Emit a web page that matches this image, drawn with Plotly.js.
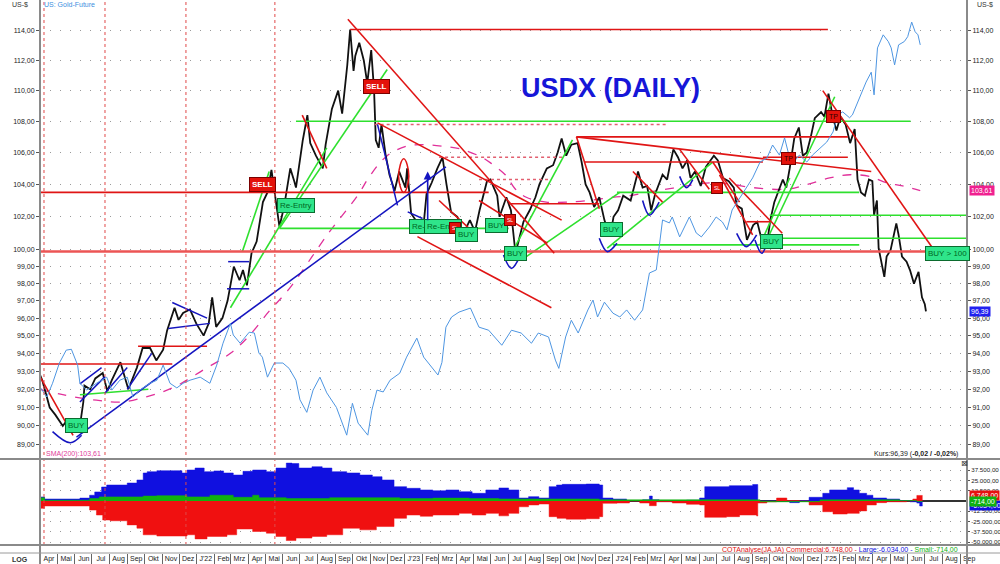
<!DOCTYPE html>
<html><head><meta charset="utf-8">
<script src="https://cdn.plot.ly/plotly-3.0.1.min.js"></script>
<style>html,body{margin:0;padding:0;background:#fff;}#chart{width:1000px;height:564px;}</style>
</head><body><div id="chart"></div>
<script>
// ---------------- DATA ----------------
const usdxDaily = [
['2021-04-01',92.8],['2021-04-05',92.5],['2021-04-18',91.0],['2021-04-28',90.6],['2021-05-11',90.0],['2021-05-18',90.3],['2021-05-28',89.7],
['2021-06-04',90.2],['2021-06-10',90.0],['2021-06-16',91.3],['2021-06-18',92.2],['2021-06-28',92.0],['2021-07-07',92.6],['2021-07-20',92.9],
['2021-07-28',91.9],['2021-08-05',92.5],['2021-08-20',93.5],['2021-08-27',92.7],['2021-09-03',92.0],['2021-09-18',93.2],['2021-09-28',94.3],
['2021-10-11',94.3],['2021-10-22',93.6],['2021-11-03',94.2],['2021-11-10',95.3],['2021-11-23',96.6],['2021-11-30',95.9],['2021-12-08',96.3],
['2021-12-20',96.5],['2021-12-31',95.7],
['2022-01-13',95.0],['2022-01-22',95.7],['2022-01-28',97.2],['2022-02-04',95.5],['2022-02-15',96.0],['2022-02-24',97.0],['2022-03-07',99.0],
['2022-03-12',98.6],['2022-03-17',98.2],['2022-03-23',98.8],['2022-03-30',97.9],['2022-04-07',99.8],['2022-04-16',100.5],['2022-04-27',102.9],
['2022-05-05',103.5],['2022-05-12',104.9],['2022-05-19',103.0],['2022-05-26',101.4],['2022-06-03',102.6],['2022-06-14',105.0],['2022-06-21',104.2],
['2022-06-24',103.8],['2022-07-06',106.8],['2022-07-14',108.4],['2022-07-19',106.6],['2022-07-29',105.8],['2022-08-10',105.0],['2022-08-15',106.5],
['2022-08-26',108.8],['2022-09-06',110.0],['2022-09-13',108.5],['2022-09-22',111.7],['2022-09-27',114.1],['2022-10-03',111.3],['2022-10-06',112.3],
['2022-10-13',113.2],['2022-10-21',112.0],['2022-10-27',110.5],['2022-11-03',112.7],['2022-11-08',110.0],['2022-11-11',106.8],['2022-11-16',106.3],
['2022-11-21',107.8],['2022-11-28',105.9],['2022-12-05',104.6],['2022-12-14',103.6],['2022-12-22',104.8],
['2023-01-02',103.8],['2023-01-05',105.0],['2023-01-12',102.2],['2023-01-24',101.6],['2023-02-02',101.2],['2023-02-08',103.4],['2023-02-17',104.1],
['2023-02-27',105.0],['2023-03-08',105.7],['2023-03-15',104.0],['2023-03-23',102.3],['2023-04-03',102.0],['2023-04-14',101.0],['2023-04-25',101.8],
['2023-05-04',101.1],['2023-05-12',102.4],['2023-05-25',104.2],['2023-05-31',104.3],['2023-06-12',103.3],['2023-06-16',102.0],['2023-06-28',103.2],
['2023-07-06',102.4],['2023-07-14',99.8],['2023-07-20',100.6],['2023-07-28',101.7],['2023-08-08',102.4],['2023-08-18',103.2],['2023-08-25',104.0],
['2023-09-07',105.0],['2023-09-18',105.2],['2023-09-26',106.0],['2023-10-03',106.9],['2023-10-11',105.8],['2023-10-20',106.5],['2023-10-31',106.6],
['2023-11-07',105.4],['2023-11-14',104.0],['2023-11-21',103.5],['2023-11-29',102.6],['2023-12-08',103.2],['2023-12-17',101.8],['2023-12-27',100.8],
['2024-01-02',102.0],['2024-01-10',102.4],['2024-01-19',103.3],['2024-02-01',103.0],['2024-02-14',104.8],['2024-02-22',103.8],['2024-03-01',103.9],
['2024-03-08',102.4],['2024-03-15',103.4],['2024-03-28',104.6],['2024-04-05',104.3],['2024-04-10',105.2],['2024-04-16',106.2],['2024-04-24',105.7],
['2024-05-02',105.0],['2024-05-10',105.5],['2024-05-16',104.4],['2024-05-24',104.8],['2024-06-03',103.9],['2024-06-12',105.1],['2024-06-26',105.8],
['2024-07-03',105.5],['2024-07-12',104.4],['2024-07-22',104.2],['2024-07-31',103.8],['2024-08-05',102.7],['2024-08-14',102.5],['2024-08-23',100.6],
['2024-09-03',101.5],['2024-09-10',101.7],['2024-09-18',100.6],['2024-09-27',100.3],['2024-10-03',101.8],['2024-10-10',102.9],['2024-10-18',103.6],
['2024-10-25',104.3],['2024-10-31',103.8],['2024-11-06',105.0],['2024-11-14',106.9],['2024-11-22',107.6],['2024-11-29',105.8],['2024-12-06',106.0],
['2024-12-13',107.0],['2024-12-20',108.2],['2024-12-31',108.6],
['2025-01-06',108.3],['2025-01-13',109.8],['2025-01-20',108.4],['2025-01-27',107.4],['2025-02-03',108.3],['2025-02-12',107.8],['2025-02-20',106.6],
['2025-02-28',107.5],['2025-03-05',104.3],['2025-03-11',103.5],['2025-03-18',103.3],['2025-03-25',104.3],['2025-03-31',104.2],['2025-04-03',102.1],
['2025-04-08',103.0],['2025-04-11',100.1],['2025-04-21',98.4],['2025-04-25',99.6],['2025-05-02',100.0],['2025-05-12',101.6],['2025-05-16',100.9],
['2025-05-22',99.6],['2025-05-30',99.3],['2025-06-05',98.8],['2025-06-12',98.0],['2025-06-20',98.7],['2025-06-26',97.2],['2025-07-01',96.8],
['2025-07-03',96.39]
];

const goldFuture = [
['2021-04-01',1779],['2021-04-13',1747],['2021-04-23',1791],['2021-05-05',1858],['2021-05-17',1902],['2021-05-26',1905],['2021-06-06',1851],
['2021-06-10',1791],['2021-06-22',1769],['2021-07-09',1791],['2021-07-27',1811],['2021-08-05',1769],['2021-08-19',1801],['2021-09-01',1811],
['2021-09-11',1747],['2021-09-23',1769],['2021-10-11',1791],['2021-10-23',1801],['2021-11-03',1851],['2021-11-15',1791],['2021-11-27',1776],
['2021-12-08',1791],['2021-12-20',1801],['2022-01-07',1811],['2022-01-24',1791],['2022-02-05',1851],['2022-02-16',1926],['2022-03-01',1997],
['2022-03-06',1955],['2022-03-18',1926],['2022-04-03',1965],['2022-04-12',1962],['2022-04-20',1892],['2022-04-26',1878],['2022-05-05',1811],
['2022-05-17',1858],['2022-06-01',1858],['2022-06-12',1840],['2022-06-24',1801],['2022-07-01',1738],['2022-07-13',1699],['2022-07-24',1769],
['2022-08-05',1811],['2022-08-17',1760],['2022-09-03',1714],['2022-09-21',1630],['2022-10-01',1727],['2022-10-11',1666],['2022-10-28',1630],
['2022-11-04',1705],['2022-11-13',1769],['2022-11-24',1763],['2022-12-06',1801],['2022-12-23',1824],['2023-01-04',1878],['2023-01-22',1944],
['2023-02-03',1878],['2023-02-19',1840],['2023-02-28',1818],['2023-03-07',1860],['2023-03-14',1983],['2023-03-24',2020],['2023-04-06',2038],
['2023-04-26',2053],['2023-05-11',1983],['2023-05-28',1972],['2023-06-20',1919],['2023-07-07',1972],['2023-07-24',1962],['2023-08-11',1926],
['2023-08-23',1962],['2023-09-10',1948],['2023-09-22',1868],['2023-09-28',1840],['2023-10-10',1948],['2023-10-20',2008],['2023-11-01',1962],
['2023-11-18',2046],['2023-11-27',2083],['2023-12-05',2020],['2023-12-17',2075],['2024-01-01',2034],['2024-01-13',2020],['2024-01-25',2046],
['2024-02-08',2008],['2024-02-22',2046],['2024-02-29',2132],['2024-03-05',2188],['2024-03-17',2200],['2024-03-22',2294],['2024-03-28',2409],
['2024-04-09',2396],['2024-04-14',2422],['2024-04-27',2336],['2024-05-14',2422],['2024-05-26',2353],['2024-06-04',2336],['2024-06-18',2378],
['2024-06-30',2422],['2024-07-11',2400],['2024-07-19',2366],['2024-07-28',2453],['2024-08-10',2506],['2024-08-22',2553],['2024-09-02',2600],
['2024-09-15',2676],['2024-09-27',2695],['2024-10-07',2760],['2024-10-19',2710],['2024-10-28',2796],['2024-11-09',2662],['2024-11-23',2710],
['2024-12-06',2676],['2024-12-16',2710],['2024-12-29',2745],['2025-01-10',2775],['2025-01-21',2826],['2025-01-29',2915],['2025-02-07',2931],
['2025-02-19',2900],['2025-02-24',2915],['2025-03-08',3006],['2025-03-20',3094],['2025-03-29',3150],['2025-04-03',3023],['2025-04-09',3292],
['2025-04-19',3371],['2025-04-28',3330],['2025-05-03',3292],['2025-05-09',3192],['2025-05-16',3310],['2025-05-26',3330],['2025-06-01',3360],
['2025-06-08',3450],['2025-06-14',3390],['2025-06-19',3371],['2025-06-23',3310]
];

const sma200 = [
['2021-04-01',92.0],['2021-05-11',91.7],['2021-07-09',91.4],['2021-08-23',91.3],['2021-10-06',91.6],['2021-11-21',92.1],['2022-01-14',93.1],
['2022-03-01',94.0],['2022-04-03',95.0],['2022-05-08',96.4],['2022-06-12',97.7],['2022-08-22',101.1],['2022-10-10',103.3],['2022-11-02',104.6],
['2022-12-01',105.8],['2023-01-04',106.4],['2023-02-03',106.5],['2023-03-09',106.4],['2023-04-11',106.2],['2023-05-16',105.7],['2023-06-02',105.3],
['2023-06-26',104.6],['2023-07-14',103.7],['2023-08-02',103.2],['2023-09-06',102.9],['2023-10-11',102.9],['2023-11-19',103.0],['2024-01-01',103.2],
['2024-01-30',103.3],['2024-02-29',103.5],['2024-04-04',103.7],['2024-05-09',103.9],['2024-06-24',104.1],['2024-07-28',104.0],['2024-09-02',103.8],
['2024-11-01',103.7],['2024-12-07',104.0],['2025-01-15',104.4],['2025-02-20',104.6],['2025-03-26',104.5],['2025-04-25',104.1],['2025-05-23',103.9],
['2025-06-23',103.61]
];

const cotLarge = [
['2021-04-01',4900],['2021-04-09',2400],['2021-06-04',2400],['2021-06-10',3500],['2021-06-27',7000],['2021-07-06',11000],['2021-07-18',17000],
['2021-07-27',19400],['2021-09-01',21800],['2021-09-18',25500],['2021-09-29',34000],['2021-10-06',35600],['2021-10-23',36800],['2021-11-21',36800],
['2021-12-06',34000],['2021-12-15',37600],['2021-12-29',40000],['2022-01-14',35600],['2022-01-31',36500],['2022-02-17',34000],['2022-03-06',31500],
['2022-03-23',36000],['2022-04-09',37600],['2022-05-03',35600],['2022-05-20',40000],['2022-06-07',46000],['2022-06-17',45500],['2022-06-29',40000],
['2022-07-22',41600],['2022-08-09',40000],['2022-08-26',35600],['2022-09-21',34000],['2022-10-14',31500],['2022-11-05',29500],['2022-11-22',25500],
['2022-12-13',17400],['2023-01-04',15400],['2023-01-28',13400],['2023-02-19',12500],['2023-03-14',13400],['2023-04-06',11300],['2023-04-29',9300],
['2023-05-23',13400],['2023-06-15',15800],['2023-07-02',13400],['2023-07-20',3600],['2023-08-06',5300],['2023-08-24',3600],['2023-09-11',17400],
['2023-09-24',19400],['2023-10-04',20200],['2023-11-15',20600],['2023-12-08',19400],['2023-12-14',3600],['2024-01-01',2400],['2024-01-25',500],
['2024-02-22',1500],['2024-03-05',6000],['2024-03-10',1500],['2024-03-22',0],['2024-05-09',1000],['2024-06-01',3600],['2024-06-10',17400],
['2024-07-23',18600],['2024-09-02',20000],['2024-09-11',0],['2024-11-06',-2000],['2024-11-23',500],['2024-12-10',4500],['2025-01-03',9300],
['2025-01-15',13400],['2025-02-15',16200],['2025-02-26',13400],['2025-03-08',9300],['2025-03-21',7000],['2025-04-01',3600],['2025-04-25',2400],
['2025-05-18',500],['2025-06-05',-1000],['2025-06-17',-2500],['2025-06-22',-6034],['2025-06-27',-6034]
];

const cotCommercial = [
['2021-04-01',-8900],['2021-04-09',-6000],['2021-06-24',-6000],['2021-06-27',-11000],['2021-07-09',-17000],['2021-07-20',-23000],['2021-08-02',-24000],
['2021-09-01',-29000],['2021-09-18',-33000],['2021-09-29',-41000],['2021-10-23',-42500],['2021-12-08',-42500],['2021-12-15',-41000],['2021-12-29',-46000],
['2022-01-19',-43000],['2022-02-23',-41000],['2022-03-12',-34000],['2022-04-09',-37000],['2022-05-03',-39000],['2022-05-20',-43000],['2022-06-07',-48000],
['2022-06-24',-45000],['2022-07-22',-43000],['2022-08-17',-41000],['2022-09-14',-33000],['2022-10-14',-35000],['2022-11-12',-31000],['2022-12-13',-21000],
['2023-01-04',-17000],['2023-01-28',-18500],['2023-02-19',-17000],['2023-04-06',-15000],['2023-04-29',-17000],['2023-05-23',-15000],['2023-06-15',-18000],
['2023-07-02',-15000],['2023-07-20',-7000],['2023-08-06',-4800],['2023-08-24',-3600],['2023-09-11',-19000],['2023-09-25',-21000],['2023-10-11',-22000],
['2023-11-15',-21500],['2023-12-08',-19000],['2023-12-14',-2800],['2024-01-08',-2400],['2024-01-30',0],['2024-02-17',-2400],['2024-03-05',-5700],
['2024-03-17',-1000],['2024-04-14',-2400],['2024-05-09',-4000],['2024-06-01',-4800],['2024-06-10',-19800],['2024-07-18',-19000],['2024-08-10',-17000],
['2024-09-09',-18200],['2024-09-11',-2400],['2024-09-27',-1000],['2024-10-14',3600],['2024-11-01',500],['2024-11-23',0],['2024-12-10',-4800],
['2025-01-03',-13000],['2025-01-21',-15800],['2025-02-15',-15000],['2025-03-08',-12000],['2025-03-21',-4800],['2025-04-07',-2000],['2025-04-25',-1000],
['2025-05-30',0],['2025-06-10',2400],['2025-06-17',6748],['2025-06-27',6748]
];

const cotSmall = [
['2021-04-01',4000],['2021-04-09',1000],['2021-06-04',1000],['2021-06-27',3000],['2021-07-14',5000],['2021-09-29',6000],['2021-10-23',6500],
['2021-12-15',5000],['2022-01-24',7000],['2022-03-06',4500],['2022-04-09',7000],['2022-04-20',4000],['2022-06-07',3000],['2022-08-22',4000],
['2022-12-23',3000],['2023-02-19',3500],['2023-04-24',3000],['2023-06-15',2500],['2023-12-08',1500],['2024-06-01',1500],['2024-09-15',-1000],
['2024-12-29',1500],['2025-05-18',500],['2025-06-17',-714],['2025-06-27',-714]
];

// technical-analysis drawings: [date0, level0, date1, level1]
const redTrendLines = [
['2022-09-27',114.1,'2025-01-12',114.1],['2021-04-01',103.5,'2023-05-28',103.5],['2021-04-01',93.4,'2021-11-19',93.4],
['2021-09-20',94.4,'2022-01-19',94.4],['2023-10-29',107.0,'2025-02-16',107.0],['2023-11-12',105.4,'2024-09-20',105.4],
['2024-09-20',105.7,'2025-02-16',105.7],['2023-07-02',102.8,'2023-12-08',102.8],['2024-08-22',101.7,'2024-10-02',101.7],
['2022-09-23',114.8,'2023-09-20',99.8],['2022-11-14',107.9,'2023-10-03',101.8],['2023-01-23',100.8,'2023-09-15',96.6],
['2025-01-03',110.0,'2025-07-21',99.8],['2023-10-29',107.0,'2025-03-29',104.8],['2023-10-29',107.0,'2023-12-08',102.5],
['2022-07-05',108.4,'2022-08-17',105.0],['2021-04-01',92.7,'2021-05-29',89.5],['2023-03-02',103.0,'2023-05-06',100.9],
['2023-05-11',103.0,'2023-09-08',100.4],['2024-02-05',104.8,'2024-03-28',102.9],['2024-04-27',106.2,'2024-06-18',103.7],
['2024-06-24',105.4,'2024-08-10',102.9],['2024-07-06',104.6,'2024-09-02',100.9],['2024-07-23',104.4,'2024-10-24',101.0]
];
const buyLevel = [['2021-04-01',99.9,'2025-09-13',99.9]];
const redDottedLines = [
['2022-11-09',107.8,'2024-04-04',107.8],['2023-03-02',105.7,'2023-10-08',105.7],['2023-05-11',104.3,'2023-09-15',104.3]
];
const greenTrendLines = [
['2022-06-24',108.0,'2025-06-06',108.0],['2022-05-26',101.3,'2023-07-02',101.3],['2024-10-02',102.1,'2025-09-13',102.1],
['2024-09-15',100.7,'2025-09-13',100.7],['2024-01-01',100.3,'2025-03-08',100.3],['2024-01-08',103.5,'2025-03-08',103.5],
['2021-06-10',91.7,'2021-10-08',92.0],['2022-05-26',101.3,'2022-12-01',111.4],['2022-03-01',96.6,'2022-08-17',106.3],
['2022-03-22',99.9,'2022-05-08',104.8],['2023-07-07',99.8,'2023-10-22',106.8],['2023-08-02',99.6,'2024-01-13',103.5],
['2023-12-22',100.1,'2024-06-24',105.4],['2024-09-20',100.1,'2025-01-24',109.6],['2024-09-15',100.3,'2024-11-06',104.4]
];
const blueTrendLines = [
['2021-06-04',89.4,'2023-03-14',105.1],['2021-06-10',92.3,'2021-07-18',93.2],['2021-06-10',91.3,'2021-07-24',92.7],
['2021-07-24',91.8,'2021-09-01',93.2],['2021-09-01',92.0,'2021-10-14',94.0],['2021-11-19',96.9,'2022-01-19',96.0],
['2021-11-12',95.4,'2022-01-24',95.7],['2022-02-25',99.3,'2022-04-03',99.3],['2022-02-23',97.7,'2022-04-03',97.7],
['2022-11-14',107.8,'2022-12-19',102.7],['2023-01-06',102.3,'2023-02-01',101.9]
];
const blueArcs = [
[['2021-04-23',89.7],['2021-05-24',89.1],['2021-06-13',89.5]],
[['2023-06-23',99.7],['2023-07-07',98.9],['2023-07-23',99.7]],
[['2023-12-08',100.7],['2023-12-22',99.9],['2024-01-08',100.4]],
[['2024-02-22',103.0],['2024-03-05',102.1],['2024-03-22',102.9]],
[['2024-04-27',104.5],['2024-05-09',103.8],['2024-05-20',104.3]],
[['2024-08-05',101.0],['2024-08-22',100.2],['2024-09-09',100.9]],
[['2024-09-06',100.6],['2024-09-18',99.8],['2024-09-27',100.4]]
];
const redEllipse = [['2022-12-30',105.6],['2023-01-08',104.5],['2022-12-30',103.5],['2022-12-21',104.5],['2022-12-30',105.6]];
const blueArrow = ['2023-02-10',101.7,104.8];

const signals = [
['BUY','2021-06-04',90.0,'buy'],['SELL','2022-04-27',104.0,'sell'],['SELL','2022-11-13',110.3,'sell'],
['Re-Entry','2022-06-24',102.7,'buy'],['Re-Entry','2023-02-11',101.4,'buy'],['Re-Entry','2023-03-09',101.4,'buy'],
['SL','2023-03-30',101.3,'sl'],['BUY','2023-04-19',100.9,'buy'],['BUY','2023-06-11',101.5,'buy'],['SL','2023-07-05',101.8,'sl'],
['BUY','2023-07-14',99.8,'buy'],['BUY','2023-12-29',101.2,'buy'],['SL','2024-07-01',103.8,'sl'],['BUY','2024-10-05',100.5,'buy'],
['TP','2024-11-04',105.6,'tp'],['TP','2025-01-22',108.3,'tp'],['BUY > 100','2025-08-10',99.8,'buy']
];
const cotReportMarkers = ['2021-04-08','2021-07-24','2021-12-13','2022-05-18'];

const priceTicks = [89,90,91,92,93,94,95,96,97,98,99,100,102,104,106,108,110,112,114];
const priceTickText = ['89,00','90,00','91,00','92,00','93,00','94,00','95,00','96,00','97,00','98,00','99,00','100,00','102,00','104,00','106,00','108,00','110,00','112,00','114,00'];
const cotTicks = [37500,25000,12500,-12500,-25000,-37500,-50000];
const cotTickText = ['37.500,00','25.000,00','12.500,00','-12.500,00','-25.000,00','-37.500,00','-50.000,00'];
const monthLabels = ['Apr','Mai','Jun','Jul','Aug','Sep','Okt','Nov','Dez',
"J'22",'Feb','Mrz','Apr','Mai','Jun','Jul','Aug','Sep','Okt','Nov','Dez',
"J'23",'Feb','Mrz','Apr','Mai','Jun','Jul','Aug','Sep','Okt','Nov','Dez',
"J'24",'Feb','Mrz','Apr','Mai','Jun','Jul','Aug','Sep','Okt','Nov','Dez',
"J'25",'Feb','Mrz','Apr','Mai','Jun','Jul','Aug','Sep'];
const lastClose = 96.39, lastSma = 103.61;
const cotLast = {commercial:6748, large:-6034, small:-714};

// ---------------- BUILD ----------------
const F = 'Liberation Sans, Arial, sans-serif';
const monthTicks = monthLabels.map((_, i) => {
  const y = 2021 + Math.floor((3 + i) / 12), m = (3 + i) % 12 + 1;
  return y + '-' + String(m).padStart(2, '0') + '-01';
});
const col = (arr, i) => arr.map(p => p[i]);

function segTrace(segs, color, width, dash) {
  const x = [], y = [];
  segs.forEach(s => { x.push(s[0], s[2], null); y.push(s[1], s[3], null); });
  return {type:'scatter', mode:'lines', x, y, xaxis:'x', yaxis:'y', connectgaps:false,
          line:{color, width, dash: dash || 'solid'}, hoverinfo:'skip'};
}
const arcX = [], arcY = [];
blueArcs.forEach(a => { a.forEach(p => { arcX.push(p[0]); arcY.push(p[1]); }); arcX.push(null); arcY.push(null); });

const traces = [
  {type:'scatter', mode:'lines', x:col(goldFuture,0), y:col(goldFuture,1), xaxis:'x', yaxis:'y2',
   line:{color:'#4e96e2', width:1}, hoverinfo:'skip'},
  {type:'scatter', mode:'lines', x:col(sma200,0), y:col(sma200,1), xaxis:'x', yaxis:'y',
   line:{color:'#e0309a', width:1.3, dash:'dash', shape:'spline'}, hoverinfo:'skip'},
  {type:'scatter', mode:'lines', x:col(usdxDaily,0), y:col(usdxDaily,1), xaxis:'x', yaxis:'y',
   line:{color:'#111', width:1.8}, hoverinfo:'skip'},
  segTrace(redDottedLines, '#e26070', 1.5, 'dot'),
  segTrace(greenTrendLines, '#2ee02e', 1.6),
  segTrace(buyLevel, '#ec5555', 2.5),
  segTrace(redTrendLines, '#e01515', 1.6),
  segTrace(blueTrendLines, '#1515c0', 1.5),
  {type:'scatter', mode:'lines', x:arcX, y:arcY, xaxis:'x', yaxis:'y', connectgaps:false,
   line:{color:'#1515c0', width:1.6, shape:'spline'}, hoverinfo:'skip'},
  {type:'scatter', mode:'lines', x:col(redEllipse,0), y:col(redEllipse,1), xaxis:'x', yaxis:'y',
   line:{color:'#e01515', width:1.5, shape:'spline', smoothing:1.3}, hoverinfo:'skip'},
  {type:'scatter', mode:'markers', x:[usdxDaily[0][0]], y:[usdxDaily[0][1]], xaxis:'x', yaxis:'y3',
   marker:{opacity:0}, hoverinfo:'skip'},
  // COT panel
  {type:'scatter', mode:'lines', x:col(cotLarge,0), y:col(cotLarge,1), xaxis:'x', yaxis:'y4',
   line:{color:'#1010e0', width:0.5, shape:'hv'}, fill:'tozeroy', fillcolor:'#1010e0', hoverinfo:'skip'},
  {type:'scatter', mode:'lines', x:col(cotCommercial,0), y:col(cotCommercial,1), xaxis:'x', yaxis:'y4',
   line:{color:'#f01010', width:0.5, shape:'hv'}, fill:'tozeroy', fillcolor:'#f01010', hoverinfo:'skip'},
  {type:'scatter', mode:'lines', x:col(cotSmall,0), y:col(cotSmall,1), xaxis:'x', yaxis:'y4',
   line:{color:'#10b010', width:0.5, shape:'hv'}, fill:'tozeroy', fillcolor:'#10b010', hoverinfo:'skip'}
];

const PH = 553; // plot-area height in px (top of figure to top of the month row)
const py = px => (PH - px) / PH;      // figure row -> paper fraction
const pxX = px => (px - 40) / 927;    // figure column -> paper fraction
const mainRange = [Math.log10(88.24), Math.log10(116.13)];
const goldRange = [Math.log10(1561), Math.log10(3591)];
const mainBottom = py(459), cotTop = py(461), cotBottom = py(545);
const tickFont = {family:F, size:7, color:'#222'};

const styles = {
  buy: {bg:'#2fe58a', border:'#0b6b2e', color:'#062', size:8, bold:false},
  sell:{bg:'#e3120b', border:'#7a0000', color:'#fff', size:8, bold:true},
  sl:  {bg:'#e3120b', border:'#7a0000', color:'#fff', size:5, bold:false},
  tp:  {bg:'#e3120b', border:'#7a0000', color:'#300', size:7, bold:false}
};
const annotations = signals.map(s => {
  const st = styles[s[3]];
  return {xref:'x', yref:'y', x:s[1], y:Math.log10(s[2]), text: st.bold ? '<b>'+s[0]+'</b>' : s[0],
    showarrow:false, xanchor:'center', yanchor:'middle', bgcolor:st.bg, bordercolor:st.border, borderwidth:1, borderpad:2,
    font:{family:F, size:st.size, color:st.color}};
});
const txt = (x, y, text, size, color, xanchor) => ({xref:'paper', yref:'paper', x:pxX(x), y:py(y), text, showarrow:false,
  xanchor:xanchor || 'center', yanchor:'middle', font:{family:F, size, color}});
const box = (yref, y, text, bg) => ({xref:'paper', yref, x:pxX(969), y, xanchor:'left', yanchor:'middle', text, showarrow:false,
  bgcolor:bg, borderpad:1, font:{family:F, size:7, color:'#fff'}});
annotations.push(
  {xref:'x', yref:'y', axref:'x', ayref:'y', x:blueArrow[0], y:Math.log10(blueArrow[2]),
   ax:blueArrow[0], ay:Math.log10(blueArrow[1]), showarrow:true, arrowhead:2, arrowsize:1, arrowwidth:1.6,
   arrowcolor:'#1515c0', text:''},
  txt(610, 88, '<b>USDX (DAILY)</b>', 27, '#1616d8'),
  txt(20, 5, 'US-$', 7, '#333'),
  txt(985, 5, 'US-$', 7, '#333'),
  txt(42, 5, 'US: Gold-Future', 7, '#3d8fe0', 'left'),
  txt(44, 454, 'SMA(200):' + lastSma.toFixed(2).replace('.', ','), 7, '#e0409a', 'left'),
  txt(960, 454, 'Kurs:' + lastClose.toFixed(2).replace('.', ',') + ' (<b>-0,02 / -0,02%</b>)', 7, '#222', 'right'),
  txt(960, 550, '<span style="color:#e01010">COTAnalyse(JA,JA) Commercial:6.748,00 - </span><span style="color:#1010e0">Large:-6.034,00 - </span><span style="color:#10b010">Small:-714,00</span>', 7, '#e01010', 'right'),
  txt(20, 559, '<b>LOG</b>', 7, '#333'),
  {xref:'paper', yref:'paper', x:pxX(964), y:py(463), xanchor:'center', yanchor:'middle', text:'⊠', showarrow:false,
   font:{family:'DejaVu Sans', size:8, color:'#333'}},
  box('y', Math.log10(lastSma), lastSma.toFixed(2).replace('.', ','), '#f0208f'),
  box('y', Math.log10(lastClose), lastClose.toFixed(2).replace('.', ','), '#2020f0'),
  box('y4', cotLast.large, '-6.034,00', '#1010e0'),
  box('y4', cotLast.commercial, '6.748,00', '#e81010'),
  box('y4', cotLast.small, '-714,00', '#10b010')
);

const shapes = cotReportMarkers.map(d => ({type:'line', xref:'x', yref:'paper', x0:d, x1:d, y0:cotBottom, y1:1,
  line:{color:'#e04848', width:1, dash:'dot'}}));
shapes.push(
  {type:'line', xref:'paper', yref:'paper', x0:0, x1:0, y0:py(564), y1:1, line:{color:'#8a8a8a', width:2}},
  {type:'line', xref:'paper', yref:'paper', x0:1, x1:1, y0:py(564), y1:1, line:{color:'#8a8a8a', width:2}},
  {type:'line', xref:'paper', yref:'paper', x0:pxX(0), x1:pxX(1000), y0:mainBottom, y1:mainBottom, line:{color:'#8a8a8a', width:2}},
  {type:'line', xref:'paper', yref:'paper', x0:pxX(0), x1:pxX(1000), y0:cotBottom, y1:cotBottom, line:{color:'#8a8a8a', width:2}},
  {type:'line', xref:'paper', yref:'paper', x0:pxX(0), x1:pxX(1000), y0:0, y1:0, line:{color:'#9a9a9a', width:1}}
);

const layout = {
  width:1000, height:564, margin:{l:40, r:33, t:0, b:564 - PH, pad:0},
  paper_bgcolor:'#fff', plot_bgcolor:'#fff', showlegend:false, font:{family:F, size:7, color:'#222'},
  xaxis:{type:'date', range:['2021-04-01','2025-09-13'], anchor:'free', position:0, tickmode:'array', tickvals:monthTicks, ticktext:monthLabels,
    ticks:'outside', ticklen:11, tickcolor:'#666', tickwidth:1, ticklabelstandoff:-12, ticklabelshift:9, tickangle:0,
    tickfont:tickFont, showgrid:false, showline:false, zeroline:false, automargin:false, fixedrange:true},
  yaxis:{domain:[mainBottom,1], type:'log', range:mainRange, anchor:'x', tickmode:'array', tickvals:priceTicks, ticktext:priceTickText,
    ticks:'outside', ticklen:3, tickcolor:'#555', tickfont:tickFont, showgrid:true, gridcolor:'#9a9a9a', griddash:'1px,9px', gridwidth:1,
    showline:false, zeroline:false, automargin:false},
  yaxis2:{overlaying:'y', type:'log', range:goldRange, visible:false},
  yaxis3:{overlaying:'y', side:'right', type:'log', range:mainRange, anchor:'x', tickmode:'array', tickvals:priceTicks, ticktext:priceTickText,
    ticks:'outside', ticklen:3, tickcolor:'#555', tickfont:tickFont, showgrid:false, showline:false, zeroline:false, automargin:false},
  yaxis4:{domain:[cotBottom,cotTop], range:[-53400,48544], side:'right', anchor:'x', tickmode:'array', tickvals:cotTicks, ticktext:cotTickText,
    ticks:'outside', ticklen:2, tickcolor:'#555', tickfont:{family:F, size:6.2, color:'#222'}, showgrid:true, gridcolor:'#9a9a9a', griddash:'1px,9px',
    zeroline:true, zerolinecolor:'#333', zerolinewidth:1.2, showline:false, automargin:false},
  annotations, shapes
};

Plotly.newPlot('chart', traces, layout, {staticPlot:true, displayModeBar:false});
</script>
</body></html>
